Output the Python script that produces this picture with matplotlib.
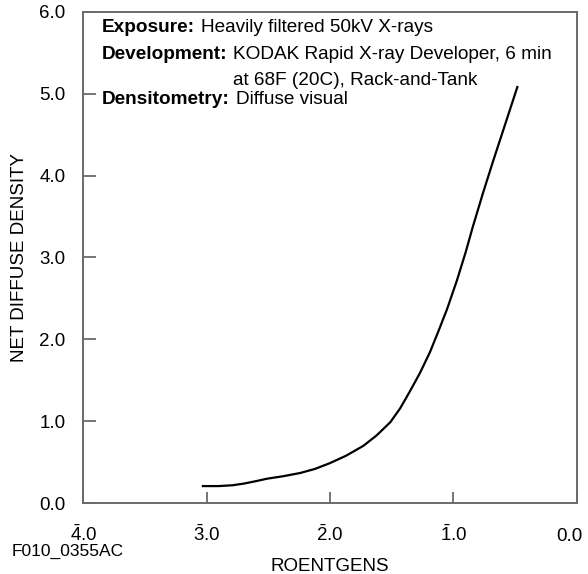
import matplotlib.pyplot as plt
from matplotlib.transforms import ScaledTranslation

plt.rcParams['font.family'] = ['Liberation Sans', 'DejaVu Sans']
plt.rcParams['mathtext.fontset'] = 'custom'
plt.rcParams['mathtext.rm'] = 'Liberation Sans'
plt.rcParams['mathtext.it'] = 'Liberation Sans'
plt.rcParams['mathtext.default'] = 'regular'

# log exposure (bar notation, drawn on a reversed axis) and net density
log_e = [3.03, 2.90, 2.79, 2.70, 2.60, 2.51, 2.38, 2.24, 2.12, 2.00, 1.87,
         1.73, 1.62, 1.51, 1.43, 1.35, 1.27, 1.19, 1.12, 1.05, 0.97, 0.90,
         0.84, 0.76, 0.68, 0.58, 0.48]
density = [0.21, 0.21, 0.22, 0.24, 0.27, 0.30, 0.33, 0.37, 0.42, 0.49, 0.58,
           0.70, 0.83, 0.99, 1.16, 1.37, 1.59, 1.84, 2.10, 2.37, 2.72, 3.06,
           3.38, 3.78, 4.16, 4.62, 5.08]

x_ticks = [4, 3, 2, 1, 0]
x_labels = [r'$\bar{4}$.0', r'$\bar{3}$.0', r'$\bar{2}$.0', r'$\bar{1}$.0', '0.0']
y_ticks = [0, 1, 2, 3, 4, 5, 6]
y_labels = ['0.0', '1.0', '2.0', '3.0', '4.0', '5.0', '6.0']

fig = plt.figure(figsize=(5.88, 5.74), dpi=100)
ax = fig.add_axes([0.1417, 0.1232, 0.8388, 0.8565])

ax.plot(log_e, density, color='black', lw=1.6)

ax.set_xlim(4, 0)
ax.set_ylim(0, 6)
ax.set_xticks(x_ticks)
ax.set_xticklabels(x_labels, fontsize=13.5)
ax.set_yticks(y_ticks)
ax.set_yticklabels(y_labels, fontsize=13.5)
ax.tick_params(axis='x', direction='in', length=8, width=1.3, color='#6a6a6a', pad=15)
ax.tick_params(axis='y', direction='in', length=9, width=1.3, color='#6a6a6a', pad=13)
for s in ax.spines.values():
    s.set_color('#6a6a6a')
    s.set_linewidth(1.4)

# last x label has no bar: nudge it down to the same baseline and keep it inside
last = ax.get_xticklabels()[-1]
last.set_transform(last.get_transform() + ScaledTranslation(-5 / 72, -3 / 72, fig.dpi_scale_trans))

ax.set_xlabel('ROENTGENS', fontsize=13.5, labelpad=9)
ax.set_ylabel('NET DIFFUSE DENSITY', fontsize=13.5, labelpad=8)

fig.text(0.02, 0.04, 'F010_0355AC', fontsize=12.5, ha='left', va='center')

fs = 13.7
ax.text(0.038, 0.967, 'Exposure:', transform=ax.transAxes, fontsize=fs,
        fontweight='bold', va='center')
ax.text(0.238, 0.967, 'Heavily filtered 50kV X-rays', transform=ax.transAxes,
        fontsize=fs, va='center')
ax.text(0.038, 0.912, 'Development:', transform=ax.transAxes, fontsize=fs,
        fontweight='bold', va='center')
ax.text(0.304, 0.912, 'KODAK Rapid X-ray Developer, 6 min', transform=ax.transAxes,
        fontsize=fs, va='center')
ax.text(0.304, 0.859, 'at 68F (20C), Rack-and-Tank', transform=ax.transAxes,
        fontsize=fs, va='center')
ax.text(0.038, 0.822, 'Densitometry:', transform=ax.transAxes, fontsize=fs,
        fontweight='bold', va='center')
ax.text(0.309, 0.822, 'Diffuse visual', transform=ax.transAxes,
        fontsize=fs, va='center')

plt.savefig('out.png', dpi=100)
